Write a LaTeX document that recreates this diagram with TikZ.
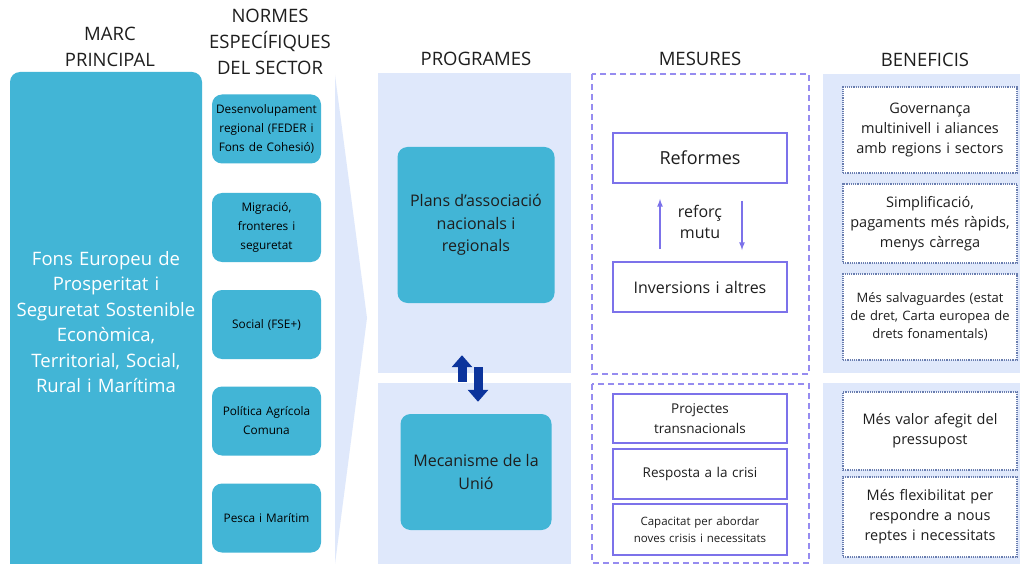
\documentclass[tikz,border=0pt]{standalone}
\usepackage{fontspec}
\setmainfont{Open Sans}
\usetikzlibrary{arrows.meta}
\definecolor{caixa}{RGB}{66,181,214}
\definecolor{fons}{RGB}{223,232,251}
\definecolor{lila}{RGB}{124,114,234}
\definecolor{lilaclar}{RGB}{150,140,240}
\definecolor{blaufosc}{RGB}{12,52,156}
\definecolor{puntejat}{RGB}{105,125,175}
\definecolor{tinta}{RGB}{30,30,30}

\begin{document}
\begin{tikzpicture}[x=1pt, y=-1pt, >=latex,
	capcal/.style={align=center, font=\fontsize{18.5}{26}\selectfont, text=tinta},
	sector/.style={fill=caixa, rounded corners=10pt, minimum width=109pt, minimum height=69pt, text width=105pt, inner sep=0pt, align=center, font=\fontsize{11.8}{19}\selectfont, text=black},
	programa/.style={fill=caixa, rounded corners=10pt, inner sep=0pt, align=center, font=\fontsize{16}{22.5}\selectfont, text=tinta},
	mesura/.style={draw=lila, line width=2pt, fill=white, minimum width=174pt, text width=168pt, inner sep=0pt, align=center, text=tinta},
	benefici/.style={draw=puntejat, densely dotted, line width=1.2pt, fill=white, minimum width=174pt, text width=170pt, inner sep=0pt, align=center, text=tinta, font=\fontsize{14.5}{20}\selectfont},
	marc/.style={draw=lilaclar, line width=2pt, dash pattern=on 6pt off 4pt}]
	\clip (0,0) rectangle (1020,564);
	\fill [white] (0,0) rectangle (1020,564);
	\fill [fons] (335,75) -- (367,318) -- (335,564) -- cycle;
	\fill [fons] (378,73) rectangle (571,373);
	\fill [fons] (378,383) rectangle (571,564);
	\fill [fons] (823,74) rectangle (1020,373);
	\fill [fons] (823,383) rectangle (1020,564);
	\draw [marc] (592,74) rectangle (809,374);
	\draw [marc] (592,384) rectangle (809,563);

	\node [capcal] (h1) at (110,47) {MARC\\PRINCIPAL};
	\node [capcal] (h2) at (270,42) {NORMES\\ESPECÍFIQUES\\DEL SECTOR};
	\node [capcal] (h3) at (476,59) {PROGRAMES};
	\node [capcal] (h4) at (700,59) {MESURES};
	\node [capcal] (h5) at (925,60) {BENEFICIS};

	\node [fill=caixa, rounded corners=10pt, minimum width=192pt, minimum height=512pt, inner sep=0pt] (mp) at (106,328) {};
	\node [text=white, align=center, text width=190pt, font=\fontsize{18.5}{25.5}\selectfont] (mptext) at (106,322) {Fons Europeu de\\Prosperitat i\\Seguretat Sostenible\\Econòmica,\\Territorial, Social,\\Rural i Marítima};

	\node [sector] (feder) at (266.5,129) {Desenvolupament\\regional (FEDER i\\Fons de Cohesió)};
	\node [sector] (migracio) at (266.5,227.5) {Migració,\\fronteres i\\seguretat};
	\node [sector] (social) at (266.5,324.5) {Social (FSE+)};
	\node [sector] (pac) at (266.5,421) {Política Agrícola\\Comuna};
	\node [sector] (pesca) at (266.5,518) {Pesca i Marítim};

	\node [programa, minimum width=157pt, minimum height=156pt] (plans) at (476,225) {Plans d’associació\\nacionals i\\regionals};
	\node [programa, minimum width=151pt, minimum height=116pt] (mec) at (476,472) {Mecanisme de la\\Unió};
	\draw [-{Triangle[width=20pt,length=12pt]}, blaufosc, line width=9pt, shorten <=32pt, shorten >=52pt] ([xshift=-14pt]mec.north) -- ([xshift=-14pt]plans.south);
	\draw [-{Triangle[width=20pt,length=12pt]}, blaufosc, line width=9pt, shorten <=64pt, shorten >=12pt] ([xshift=2pt]plans.south) -- ([xshift=2pt]mec.north);

	\node [mesura, minimum height=50pt, font=\fontsize{18}{22}\selectfont] (ref) at (700,158) {Reformes};
	\node [mesura, minimum height=50pt, font=\fontsize{16}{22}\selectfont] (inv) at (700,287) {Inversions i altres};
	\node [align=center, text=tinta, font=\fontsize{16}{21.5}\selectfont] (mutu) at (700,222) {reforç\\mutu};
	\draw [->, lila, line width=1.6pt, shorten <=12pt, shorten >=15pt] ([xshift=-40pt]inv.north) -- ([xshift=-40pt]ref.south);
	\draw [->, lila, line width=1.6pt, shorten <=17pt, shorten >=11pt] ([xshift=42pt]ref.south) -- ([xshift=42pt]inv.north);

	\node [mesura, minimum height=49pt, font=\fontsize{13.5}{20}\selectfont] (proj) at (700,418.5) {Projectes\\transnacionals};
	\node [mesura, minimum height=50pt, font=\fontsize{13.5}{20}\selectfont] (resp) at (700,474) {Resposta a la crisi};
	\node [mesura, minimum height=51pt, font=\fontsize{11.5}{17}\selectfont] (cap) at (700,529.5) {Capacitat per abordar\\noves crisis i necessitats};

	\node [benefici, minimum height=86pt] (gov) at (930,130) {Governança\\multinivell i aliances\\amb regions i sectors};
	\node [benefici, minimum height=79pt] (simp) at (930,223.5) {Simplificació,\\pagaments més ràpids,\\menys càrrega};
	\node [benefici, minimum height=86pt, font=\fontsize{13}{18}\selectfont] (salv) at (930,317) {Més salvaguardes (estat\\de dret, Carta europea de\\drets fonamentals)};
	\node [benefici, minimum height=78pt] (valor) at (930,431) {Més valor afegit del\\pressupost};
	\node [benefici, minimum height=80pt] (flex) at (930,517) {Més flexibilitat per\\respondre a nous\\reptes i necessitats};
\end{tikzpicture}
\end{document}
